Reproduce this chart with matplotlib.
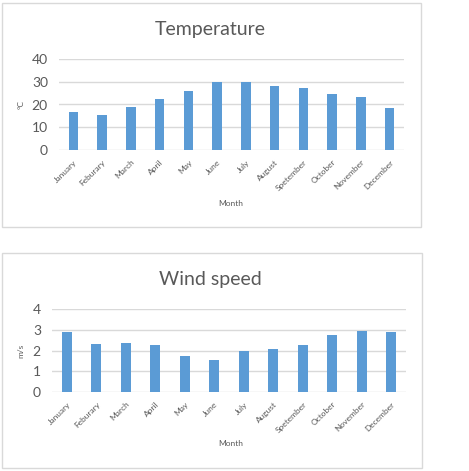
import matplotlib.pyplot as plt
from matplotlib.patches import Rectangle

months = ["January", "Feburary", "March", "April", "May", "June", "July",
          "August", "Spetember", "October", "November", "December"]
temperature = [16.7, 15.4, 18.8, 22.4, 25.9, 30.0, 29.9, 28.0, 27.1, 24.6, 23.3, 18.6]
wind_speed = [2.89, 2.31, 2.35, 2.26, 1.74, 1.56, 1.98, 2.08, 2.27, 2.76, 2.94, 2.90]

plt.rcParams['font.family'] = ['Lato', 'DejaVu Sans']

W, H = 469, 471
BAR = "#5b9bd5"
GRID = "#d9d9d9"
TXT = "#595959"

fig = plt.figure(figsize=(W / 100, H / 100), dpi=100)


def px_axes(x0, y0, x1, y1):
    # pixel box (top-left origin) -> figure axes
    return fig.add_axes([x0 / W, 1 - y1 / H, (x1 - x0) / W, (y1 - y0) / H])


def frame(x0, y0, x1, y1):
    fig.patches.append(Rectangle((x0 / W, 1 - y1 / H), (x1 - x0) / W, (y1 - y0) / H,
                                 transform=fig.transFigure, fill=False,
                                 edgecolor=GRID, linewidth=1))


def bar_chart(box, vals, ymax, ystep, title, ylabel, title_y, ylab_x, xlab_y):
    ax = px_axes(*box)
    x = range(len(vals))
    ax.bar(x, vals, width=0.33, color=BAR, zorder=3)
    ax.set_xlim(-0.5, len(vals) - 0.5)
    ax.set_ylim(0, ymax)
    ax.set_yticks(range(0, ymax + 1, ystep))
    ax.yaxis.grid(True, color=GRID, linewidth=1, zorder=0)
    for s in ax.spines.values():
        s.set_visible(False)
    ax.tick_params(axis='y', length=0, labelsize=10, labelcolor=TXT, pad=8)
    ax.tick_params(axis='x', length=0, labelsize=6, labelcolor=TXT, pad=6)
    ax.set_xticks(list(x))
    ax.set_xticklabels(months, rotation=45, ha='right', rotation_mode='anchor')
    fig.text(210 / W, 1 - title_y / H, title, ha='center', va='center',
             fontsize=14, color=TXT)
    fig.text(ylab_x / W, 1 - (box[1] + box[3]) / 2 / H, ylabel, ha='center',
             va='center', rotation=90, fontsize=6, color=TXT)
    fig.text(231 / W, 1 - xlab_y / H, "Month", ha='center', va='center',
             fontsize=6, color=TXT)
    return ax


frame(2, 3, 421, 227)
bar_chart((59, 59, 404, 150), temperature, 40, 10, "Temperature", "\u00b0C", 29, 21, 203)

frame(2, 253, 422, 468)
bar_chart((52, 309, 406, 392), wind_speed, 4, 1, "Wind speed", "m/s", 279, 21, 444)

fig.savefig("out.png", dpi=100, facecolor="white")
